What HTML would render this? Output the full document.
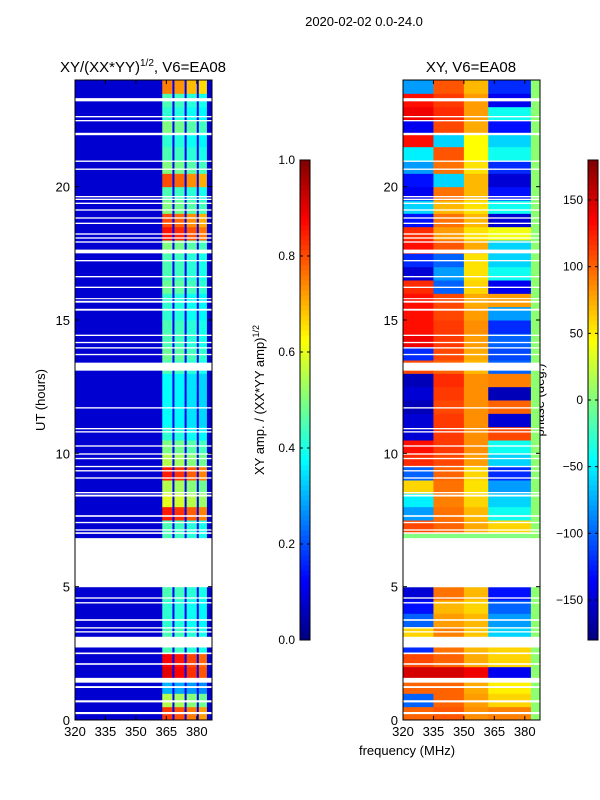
<!DOCTYPE html>
<html><head><meta charset="utf-8"><style>
html,body{margin:0;padding:0;background:#fff;}
svg{display:block;font-family:"Liberation Sans",sans-serif;}
</style></head><body>
<svg id="fig" width="600" height="800" viewBox="0 0 600 800">
<text x="364" y="26" font-size="13" text-anchor="middle">2020-02-02 0.0-24.0</text>
<text x="143" y="72" font-size="15" text-anchor="middle">XY/(XX*YY)<tspan font-size="10" dy="-6">1/2</tspan><tspan dy="6">, V6=EA08</tspan></text>
<text x="471" y="72" font-size="15" text-anchor="middle">XY, V6=EA08</text>
<text transform="translate(45,400) rotate(-90)" font-size="13" text-anchor="middle">UT (hours)</text>
<text x="407" y="755" font-size="13" text-anchor="middle">frequency (MHz)</text>
<text transform="translate(264,400) rotate(-90)" font-size="13" text-anchor="middle">XY amp. / (XX*YY amp)<tspan font-size="9" dy="-5">1/2</tspan></text>
<text transform="translate(544,400) rotate(-90)" font-size="13" text-anchor="middle">phase (deg.)</text>
<g id="left"></g><g id="right"></g><g id="cbars"></g>
</svg>
<script>
// ---- data ----
const timeBins = [0,0.5,1,1.5,2,2.5,3,3.5,4,4.5,5,5.5,6,6.5,7,7.5,8,8.5,9,9.5,10,10.5,11,11.5,12,12.5,13,13.5,14,14.5,15,15.5,16,16.5,17,17.5,18,18.5,19,19.5,20,20.5,21,21.5,22,22.5,23,23.5];
const bandAmp = [0.82,0.55,0.3,0.9,0.88,0.45,0.45,0.42,0.42,0.45,0.45,0.45,0.45,0.45,0.45,0.85,0.6,0.55,0.85,0.55,0.5,0.42,0.38,0.38,0.38,0.38,0.45,0.48,0.45,0.45,0.42,0.42,0.48,0.45,0.45,0.5,0.86,0.8,0.5,0.45,0.8,0.5,0.45,0.42,0.5,0.42,0.45,0.75];
const bandRanges = [[363,368],[369,374],[375,380],[381,385]];
const bandScale = [1,0.97,0.92,0.88];
const bgAmp = 0.08;
const gapAmp = 0.12;
const phaseGroups = [[320,335],[335,350],[350,362],[362,383]];
const phaseG1 = [100,-100,100,150,110,-120,60,-100,-130,-150,0,0,0,0,110,-80,-50,60,-100,120,130,-150,-150,-160,-150,-160,110,-120,140,130,130,130,120,-150,-120,130,120,-130,-60,-140,-130,-80,-50,130,-140,140,130,-80];
const phaseG2 = [105,100,100,150,100,95,90,80,70,95,0,0,0,0,100,95,90,95,100,110,115,115,115,110,115,120,100,110,115,115,110,110,-100,-80,-100,105,80,95,70,95,-60,95,105,-60,110,120,115,105];
const phaseG3 = [85,80,75,140,75,70,65,70,60,70,0,0,0,0,75,70,60,55,60,80,85,85,85,85,85,85,70,75,80,85,80,75,60,55,55,75,55,70,55,70,70,55,45,45,75,80,80,70];
const phaseG4 = [90,60,50,-140,60,60,-60,-80,-100,-130,0,0,0,0,60,-40,-60,-80,-120,-60,-40,110,-150,100,-160,90,-100,-110,-100,-120,-80,80,-140,-40,-60,-60,40,-150,-40,-130,-150,-120,-40,-60,-130,-40,-140,-120];
const edgePhase = 5;
const flags = [[0.22,0.3],[0.66,0.74],[1.2,1.27],[1.4,1.58],[2.07,2.13],[2.47,2.53],[2.72,3.12],[3.28,3.33],[3.43,3.48],[3.72,3.78],[4.37,4.42],[4.55,4.6],[4.98,6.82],[6.98,7.04],[7.1,7.15],[7.38,7.43],[7.62,7.68],[8.38,8.45],[8.5,8.55],[9.05,9.1],[9.32,9.37],[9.48,9.53],[9.78,9.83],[9.95,10.0],[10.25,10.3],[10.78,10.83],[10.9,10.95],[11.68,11.73],[13.1,13.4],[13.68,13.73],[13.93,13.98],[14.13,14.18],[14.4,14.45],[15.35,15.42],[15.65,15.72],[15.78,15.82],[16.2,16.25],[16.6,16.65],[17.2,17.25],[17.5,17.64],[17.9,17.95],[18.05,18.1],[18.2,18.25],[18.6,18.65],[18.8,18.85],[19.1,19.15],[19.35,19.4],[19.5,19.55],[19.6,19.65],[20.63,20.68],[20.93,20.98],[21.93,22.02],[22.45,22.5],[22.6,22.65],[23.2,23.32]];
const xTicks = [320,335,350,365,380];
const yTicks = [0,5,10,15,20];
const ampTicks = [0.0,0.2,0.4,0.6,0.8,1.0];
const phaseTicks = [-150,-100,-50,0,50,100,150];

// ---- helpers ----
const NS = "http://www.w3.org/2000/svg";
function jet(v){v=Math.max(0,Math.min(1,v));const c=x=>Math.round(255*Math.max(0,Math.min(1,1.5-Math.abs(x))));return `rgb(${c(4*v-3)},${c(4*v-2)},${c(4*v-1)})`;}
function mk(tag,attrs,parent){const e=document.createElementNS(NS,tag);for(const k in attrs)e.setAttribute(k,attrs[k]);parent.appendChild(e);return e;}
const yTop=80,yBot=720,hMax=24,fMin=320,fMax=387.5;
function yS(h){return yBot-(h/hMax)*(yBot-yTop);}
function xS(f,x0,x1){return x0+(f-fMin)/(fMax-fMin)*(x1-x0);}
const binW=0.5;

function drawAxes(g,x0,x1,name){
  const frame=mk('rect',{x:x0,y:yTop,width:x1-x0,height:yBot-yTop,fill:'none',stroke:'#000','stroke-width':1},g);
  
  
  xTicks.forEach(t=>{const x=xS(t,x0,x1);
    const tk=mk('line',{x1:x,x2:x,y1:yBot,y2:yBot-4,stroke:'#000'},g);
    
    
    mk('line',{x1:x,x2:x,y1:yTop,y2:yTop+4,stroke:'#000'},g);
    const tx=mk('text',{x:x,y:yBot+16,'font-size':13,'text-anchor':'middle'},g);tx.textContent=t;
    
    
  });
  yTicks.forEach(t=>{const y=yS(t);
    const tk=mk('line',{x1:x0,x2:x0+4,y1:y,y2:y,stroke:'#000'},g);
    
    
    mk('line',{x1:x1,x2:x1-4,y1:y,y2:y,stroke:'#000'},g);
    const tx=mk('text',{x:x0-5,y:y+5,'font-size':13,'text-anchor':'end'},g);tx.textContent=t;
    
    
  });
}
function drawFlags(g,x0,x1){
  flags.forEach(f=>{const r=mk('rect',{x:x0,y:yS(f[1]),width:x1-x0,height:yS(f[0])-yS(f[1]),fill:'#fff'},g);
    
    });
}

// left amplitude panel
(function(){
  const g=document.getElementById('left');const x0=75,x1=212;
  mk('rect',{x:x0,y:yTop,width:x1-x0,height:yBot-yTop,fill:jet(bgAmp)},g);
  const gl=mk('rect',{x:xS(bandRanges[0][0],x0,x1),y:yTop,width:xS(bandRanges[3][1],x0,x1)-xS(bandRanges[0][0],x0,x1),height:yBot-yTop,fill:jet(gapAmp)},g);
  
  
  timeBins.forEach((t,i)=>{
    bandRanges.forEach((b,j)=>{
      const c=mk('rect',{x:xS(b[0],x0,x1),y:yS(t+binW),width:xS(b[1],x0,x1)-xS(b[0],x0,x1),height:yS(t)-yS(t+binW)+0.5,fill:jet(bandAmp[i]*bandScale[j])},g);
      
      
    });
  });
  drawFlags(g,x0,x1);
  drawAxes(g,x0,x1,'left-panel');
})();

// right phase panel
(function(){
  const g=document.getElementById('right');const x0=403,x1=540;
  const groups=[phaseG1,phaseG2,phaseG3,phaseG4];
  const pv=p=>(p+180)/360;
  timeBins.forEach((t,i)=>{
    phaseGroups.forEach((pg,j)=>{
      const c=mk('rect',{x:xS(pg[0],x0,x1),y:yS(t+binW),width:xS(pg[1],x0,x1)-xS(pg[0],x0,x1)+0.5,height:yS(t)-yS(t+binW)+0.5,fill:jet(pv(groups[j][i]))},g);
      
      
    });
    const e=mk('rect',{x:xS(383,x0,x1),y:yS(t+binW),width:x1-xS(383,x0,x1),height:yS(t)-yS(t+binW)+0.5,fill:jet(pv(edgePhase))},g);
    
    
  });
  drawFlags(g,x0,x1);
  drawAxes(g,x0,x1,'right-panel');
})();

// colorbars
(function(){
  const g=document.getElementById('cbars');
  function cbar(x,name,ticks,vmin,vmax,fmt){
    const y0=160,y1=640;const n=96;
    for(let k=0;k<n;k++){
      const r=mk('rect',{x:x,y:y1-(k+1)*(y1-y0)/n,width:10,height:(y1-y0)/n+0.5,fill:jet((k+0.5)/n)},g);
      
      
    }
    const f=mk('rect',{x:x,y:y0,width:10,height:y1-y0,fill:'none',stroke:'#000'},g);
    
    
    ticks.forEach(t=>{const y=y1-(t-vmin)/(vmax-vmin)*(y1-y0);
      mk('line',{x1:x,x2:x+3,y1:y,y2:y,stroke:'#000'},g);
      mk('line',{x1:x+10,x2:x+7,y1:y,y2:y,stroke:'#000'},g);
      const tx=mk('text',{x:x-5,y:y+4,'font-size':12,'text-anchor':'end'},g);tx.textContent=fmt(t);
      
      
    });
  }
  cbar(300,'amp-colorbar',ampTicks,0,1,t=>t.toFixed(1));
  cbar(588,'phase-colorbar',phaseTicks,-180,180,t=>t<0?'\u2212'+(-t):String(t));
})();
</script>
</body></html>
